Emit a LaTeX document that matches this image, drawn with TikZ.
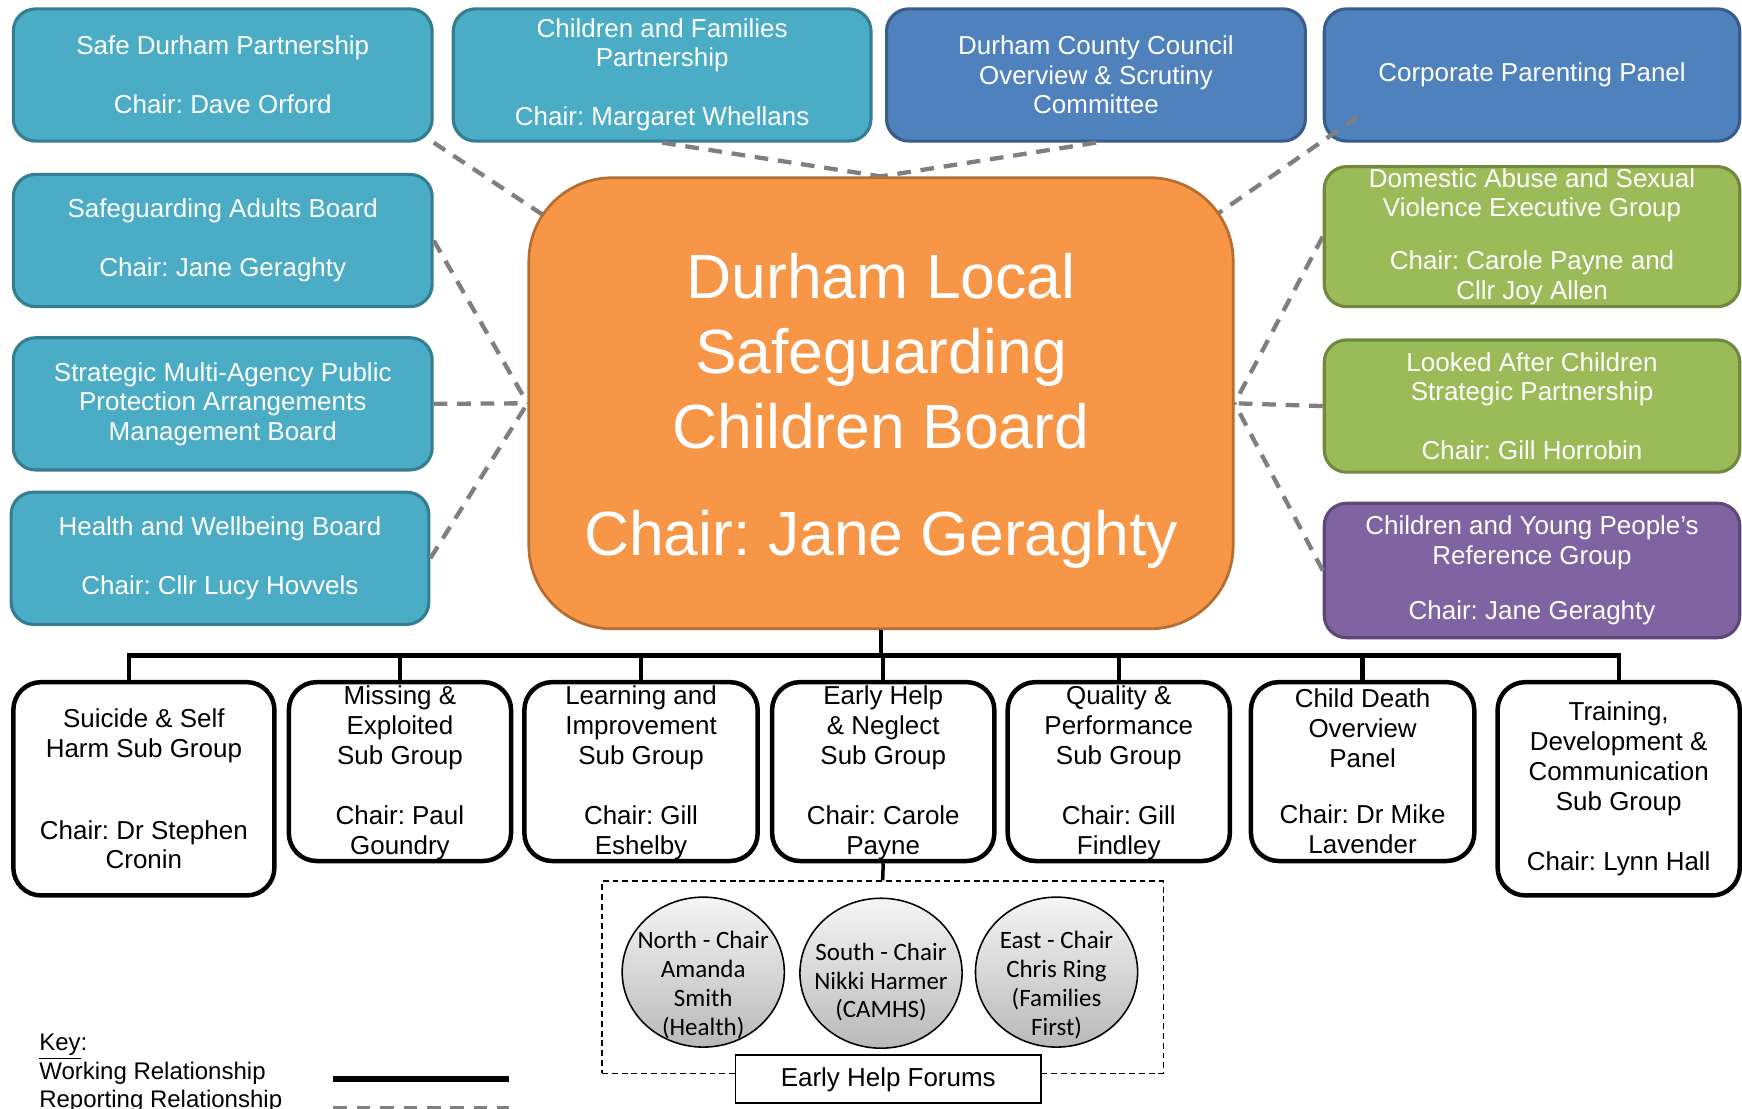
\documentclass[tikz,border=0pt]{standalone}
\usepackage{fontspec}
\setmainfont{Liberation Sans}
\newfontfamily\carl{Carlito}
\frenchspacing
\usetikzlibrary{shapes.geometric,calc}
\pgfdeclarelayer{back}\pgfdeclarelayer{mid}\pgfsetlayers{back,mid,main}
\definecolor{teal1}{HTML}{4BACC6}\definecolor{teal2}{HTML}{357D91}
\definecolor{blue1}{HTML}{4F81BD}\definecolor{blue2}{HTML}{385D8A}
\definecolor{green1}{HTML}{9BBB59}\definecolor{green2}{HTML}{71893F}
\definecolor{purp1}{HTML}{8064A2}\definecolor{purp2}{HTML}{5C4776}
\definecolor{orng1}{HTML}{F79646}\definecolor{orng2}{HTML}{B66D31}
\definecolor{dgrey}{HTML}{7F7F7F}
\newcommand\bnode[7]{%
  \pgfmathsetmacro\bcx{(#2+#4)/2}%
  \pgfmathsetmacro\bcy{(#3+#5)/2}%
  \pgfmathsetmacro\bww{(#4-#2)*0.02}%
  \pgfmathsetmacro\bhh{(#5-#3)*0.02}%
  \node[#6, minimum width=\bww cm, minimum height=\bhh cm] (#1) at (\bcx,\bcy) {#7};}
\tikzset{
  sat/.style={rounded corners=0.4cm, line width=1.6pt, inner sep=0pt, align=center, text=white, font=\fontsize{13.3}{15.1}\selectfont},
  tealbox/.style={sat, fill=teal1, draw=teal2},
  bluebox/.style={sat, fill=blue1, draw=blue2},
  greenbox/.style={sat, fill=green1, draw=green2},
  purpbox/.style={sat, fill=purp1, draw=purp2},
  mainbox/.style={rounded corners=1.5cm, fill=orng1, draw=orng2, line width=1.4pt, inner sep=0pt, align=center, text=white, font=\fontsize{32}{38.4}\selectfont},
  subbox/.style={rounded corners=0.5cm, draw=black, fill=white, line width=2.3pt, inner sep=0pt, align=center, font=\fontsize{13.3}{15.3}\selectfont},
  rel/.style={draw=dgrey, line width=2.2pt, dash pattern=on 7pt off 5pt},
  tree/.style={draw=black, line width=2.2pt},
  forum/.style={ellipse, draw=black, line width=0.8pt, top color=gray!8, bottom color=gray!55, minimum width=2.92cm, minimum height=2.7cm, inner sep=0pt},
  forumtxt/.style={align=center, font=\carl\fontsize{12.8}{14.8}\selectfont, inner sep=0pt},
  keytxt/.style={font=\fontsize{12.3}{14.5}\selectfont, inner sep=0pt},
  ehbox/.style={draw=black, fill=white, line width=1pt, minimum width=5.5cm, minimum height=0.86cm, inner sep=0pt, font=\fontsize{13.3}{15}\selectfont},
  forumframe/.style={draw=black, line width=0.7pt, dash pattern=on 3pt off 2pt, inner sep=0pt}
}
\begin{document}
\begin{tikzpicture}[x=0.02cm,y=-0.02cm]
\useasboundingbox (0,0) rectangle (1568,998);
\clip (0,0) rectangle (1568,998);

\begin{pgfonlayer}{back}
\fill[white] (0,0) rectangle (1568,998);
\bnode{sdp}{12}{8}{389}{127}{tealbox}{Safe Durham Partnership\\[15.1pt]Chair: Dave Orford}
\bnode{cfp}{408}{8}{784}{127}{tealbox}{Children and Families\\Partnership\\[15.1pt]Chair: Margaret Whellans}
\bnode{dcc}{798}{8}{1175}{127}{bluebox}{Durham County Council\\Overview \& Scrutiny\\Committee}
\bnode{cpp}{1192}{8}{1566}{127}{bluebox}{Corporate Parenting Panel}
\bnode{sab}{12}{157}{389}{276}{tealbox}{Safeguarding Adults Board\\[15.1pt]Chair: Jane Geraghty}
\bnode{smappa}{12}{304}{389}{423}{tealbox}{Strategic Multi-Agency Public\\Protection Arrangements\\Management Board}
\bnode{hwb}{10}{443}{386}{562}{tealbox}{Health and Wellbeing Board\\[15.1pt]Chair: Cllr Lucy Hovvels}
\bnode{dasv}{1192}{150}{1566}{276}{greenbox}{Domestic Abuse and Sexual\\Violence Executive Group\\[12.2pt]Chair: Carole Payne and\\Cllr Joy Allen}
\bnode{lac}{1192}{306}{1566}{425}{greenbox}{Looked After Children\\Strategic Partnership\\[15.1pt]Chair: Gill Horrobin}
\bnode{cyp}{1192}{453}{1566}{574}{purpbox}{Children and Young People’s\\Reference Group\\[13.4pt]Chair: Jane Geraghty}
\end{pgfonlayer}

\bnode{lscb}{476}{160}{1110}{566}{mainbox}{\rule{0pt}{31pt}Durham Local\\Safeguarding\\Children Board\\[16.8pt]Chair: Jane Geraghty}

\begin{pgfonlayer}{mid}
\draw[rel] (sdp.south east) -- ($(lscb.north west)+(75,75)$);
\draw[rel] (cfp.south) -- (lscb.north);
\draw[rel] (dcc.south) -- (lscb.north);
\draw[rel] ($(cpp.south west)+(31,-23)$) -- ($(lscb.north east)+(-75,75)$);
\draw[rel] (sab.east) -- (lscb.west);
\draw[rel] (smappa.east) -- (lscb.west);
\draw[rel] (hwb.east) -- (lscb.west);
\draw[rel] (dasv.west) -- (lscb.east);
\draw[rel] (lac.west) -- (lscb.east);
\draw[rel] (cyp.west) -- (lscb.east);
\end{pgfonlayer}

\bnode{s1}{12}{614}{247}{806}{subbox}{Suicide \& Self\\Harm Sub Group\\[26.7pt]Chair: Dr Stephen\\Cronin}
\bnode{s2}{260}{614}{460}{775}{subbox}{\rule{0pt}{11pt}Missing \&\\Exploited\\Sub Group\\[15.3pt]Chair: Paul\\Goundry}
\bnode{s3}{472}{614}{682}{775}{subbox}{\rule{0pt}{11pt}Learning and\\Improvement\\Sub Group\\[15.3pt]Chair: Gill\\Eshelby}
\bnode{s4}{695}{614}{895}{775}{subbox}{\rule{0pt}{11pt}Early Help\\\& Neglect\\Sub Group\\[15.3pt]Chair: Carole\\Payne}
\bnode{s5}{907}{614}{1107}{775}{subbox}{\rule{0pt}{11pt}Quality \&\\Performance\\Sub Group\\[15.3pt]Chair: Gill\\Findley}
\bnode{s6}{1126}{614}{1327}{775}{subbox}{Child Death\\Overview\\Panel\\[13.6pt]Chair: Dr Mike\\Lavender}
\bnode{s7}{1348}{614}{1566}{806}{subbox}{Training,\\Development \&\\Communication\\Sub Group\\[15.3pt]Chair: Lynn Hall}

\coordinate (bar) at (793,590);
\coordinate (s1top) at ([xshift=-0.27cm]s1.north);
\draw[tree] (lscb.south) -- (lscb.south |- bar);
\draw[tree, line cap=rect] (s1top |- bar) -- (s7.north |- bar);
\draw[tree] (s1top) -- (s1top |- bar);
\foreach \s in {s2,s3,s4,s5,s6,s7} \draw[tree] (\s.north) -- (\s.north |- bar);

\bnode{ehf}{542}{793}{1047}{966}{forumframe}{}
\draw[line width=1.8pt] (s4.south) -- (ehf.north);
\node[forum] (fn) at (633,875) {};
\node[forum] (fs) at (793,876) {};
\node[forum] (fe) at (951,875) {};
\node[forumtxt] (fnt) at ([yshift=-0.23cm]fn.center) {North - Chair\\Amanda\\Smith\\(Health)};
\node[forumtxt] (fst) at ([yshift=-0.16cm]fs.center) {South - Chair\\Nikki Harmer\\(CAMHS)};
\node[forumtxt] (fet) at ([yshift=-0.23cm]fe.center) {East - Chair\\Chris Ring\\(Families\\First)};
\node[ehbox] (ehl) at (799.5,971.5) {Early Help Forums};

\node[keytxt, anchor=base west] (key) at (35,946) {\underline{Key}:};
\node[keytxt, anchor=base west] (kw) at (35,972) {Working Relationship};
\node[keytxt, anchor=base west] (kr) at (35,997) {Reporting Relationship};
\coordinate (w1) at (300,971); \coordinate (w2) at (458,971);
\coordinate (r1) at (300,997); \coordinate (r2) at (458,997);
\draw[line width=2.8pt] (w1) -- (w2);
\draw[rel] (r1) -- (r2);
\end{tikzpicture}
\end{document}
